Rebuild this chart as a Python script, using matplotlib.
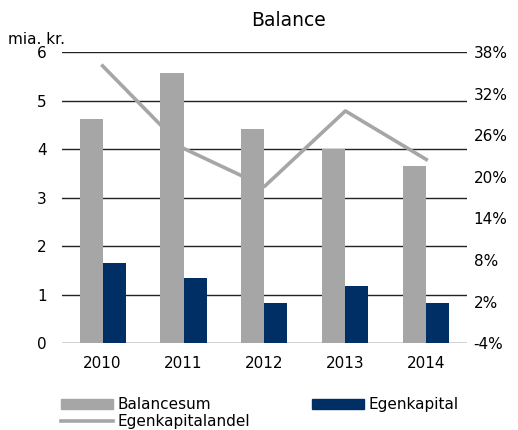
import numpy as np
import matplotlib
matplotlib.use("Agg")
import matplotlib.pyplot as plt
from matplotlib.lines import Line2D
from matplotlib.patches import Patch

# Data
years = ["2010", "2011", "2012", "2013", "2014"]
balancesum = [4.63, 5.57, 4.42, 4.01, 3.65]
egenkapital = [1.66, 1.34, 0.82, 1.18, 0.82]
egenkapitalandel = [36.0, 24.1, 18.6, 29.5, 22.5]

left_ticks = [0, 1, 2, 3, 4, 5, 6]
right_ticks = [-4, 2, 8, 14, 20, 26, 32, 38]

gray = "#A6A6A6"
navy = "#002F66"

plt.rcParams["font.family"] = ["DejaVu Sans"]
plt.rcParams["font.size"] = 11

fig = plt.figure(figsize=(5.18, 4.30), dpi=100)
ax = fig.add_axes([0.120, 0.202, 0.781, 0.677])

x = np.arange(len(years))
w = 0.285
ax.bar(x - w / 2, balancesum, width=w, color=gray, zorder=3)
ax.bar(x + w / 2, egenkapital, width=w, color=navy, zorder=3)

ax.set_xlim(-0.5, len(years) - 0.5)
ax.set_ylim(0, 6)
ax.set_yticks(left_ticks)
ax.set_xticks(x)
ax.set_xticklabels(years)
ax.grid(axis="y", color="#222222", linewidth=1.0, zorder=0)
for s in ax.spines.values():
    s.set_visible(False)
ax.tick_params(axis="both", length=0)
ax.tick_params(axis="y", pad=11)
ax.tick_params(axis="x", pad=9)

# right axis for the share line
ax2 = ax.twinx()
ax2.plot(x, egenkapitalandel, color=gray, linewidth=2.6, zorder=4)
ax2.set_ylim(-4, 38)
ax2.set_yticks(right_ticks)
ax2.set_yticklabels([f"{t}%" for t in right_ticks])
for s in ax2.spines.values():
    s.set_visible(False)
ax2.tick_params(axis="y", length=0, pad=5)

fig.text(0.556, 0.953, "Balance", ha="center", va="center", fontsize=13.5)
fig.text(0.015, 0.907, "mia. kr.", ha="left", va="center", fontsize=11)

handles = [
    Patch(color=gray, label="Balancesum"),
    Line2D([], [], color=gray, linewidth=2.6, label="Egenkapitalandel"),
    Patch(color=navy, label="Egenkapital"),
]
fig.legend(handles=handles, ncol=2, loc="upper left",
           bbox_to_anchor=(0.117, 0.076), frameon=False,
           handlelength=3.4, handleheight=0.6, handletextpad=0.35,
           labelspacing=0.1, columnspacing=4.0, borderpad=0, borderaxespad=0)

fig.savefig("out.png", dpi=100)
